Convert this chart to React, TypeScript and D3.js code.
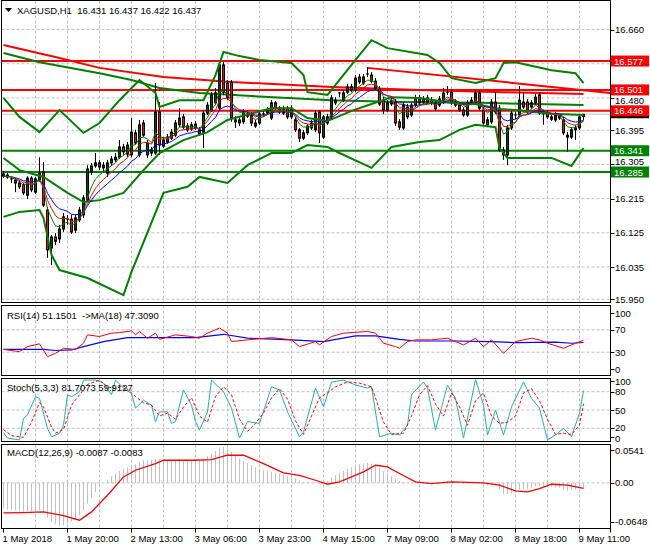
import React from 'react';
import * as d3 from 'd3';

// XAGUSD H1 candles (146 bars)
const opens = [
  16.280, 16.277, 16.267, 16.264, 16.256, 16.251, 16.224, 16.269, 16.232, 16.264,
  16.285, 16.185, 16.085, 16.114, 16.109, 16.135, 16.161, 16.161, 16.132, 16.159,
  16.172, 16.211, 16.285, 16.301, 16.309, 16.296, 16.282, 16.309, 16.317, 16.324,
  16.351, 16.332, 16.330, 16.388, 16.330, 16.414, 16.330, 16.335, 16.335, 16.443,
  16.353, 16.364, 16.374, 16.382, 16.409, 16.430, 16.396, 16.409, 16.401, 16.396,
  16.390, 16.440, 16.448, 16.467, 16.453, 16.567, 16.519, 16.522, 16.422, 16.414,
  16.417, 16.438, 16.435, 16.414, 16.414, 16.438, 16.440, 16.427, 16.467, 16.453,
  16.440, 16.453, 16.430, 16.422, 16.396, 16.374, 16.388, 16.414, 16.396, 16.443,
  16.377, 16.414, 16.430, 16.467, 16.490, 16.474, 16.495, 16.509, 16.501, 16.535,
  16.519, 16.540, 16.540, 16.524, 16.503, 16.474, 16.448, 16.464, 16.469, 16.417,
  16.401, 16.456, 16.435, 16.480, 16.467, 16.477, 16.480, 16.467, 16.467, 16.461,
  16.469, 16.493, 16.495, 16.461, 16.461, 16.448, 16.435, 16.467, 16.469, 16.493,
  16.448, 16.409, 16.417, 16.469, 16.453, 16.343, 16.330, 16.401, 16.435, 16.435,
  16.469, 16.469, 16.456, 16.467, 16.488, 16.443, 16.440, 16.430, 16.422, 16.432,
  16.422, 16.382, 16.377, 16.396, 16.401, 16.431,
];
const highs = [
  16.288, 16.282, 16.272, 16.269, 16.264, 16.256, 16.274, 16.274, 16.272, 16.324,
  16.311, 16.193, 16.119, 16.124, 16.146, 16.177, 16.172, 16.172, 16.174, 16.193,
  16.224, 16.303, 16.309, 16.335, 16.317, 16.311, 16.317, 16.327, 16.335, 16.369,
  16.359, 16.364, 16.427, 16.396, 16.422, 16.422, 16.369, 16.351, 16.519, 16.469,
  16.377, 16.385, 16.398, 16.422, 16.453, 16.438, 16.414, 16.417, 16.419, 16.403,
  16.448, 16.469, 16.495, 16.506, 16.574, 16.574, 16.527, 16.527, 16.432, 16.430,
  16.451, 16.448, 16.443, 16.422, 16.446, 16.446, 16.456, 16.474, 16.472, 16.459,
  16.459, 16.459, 16.461, 16.430, 16.401, 16.396, 16.411, 16.422, 16.448, 16.448,
  16.435, 16.438, 16.488, 16.482, 16.495, 16.501, 16.517, 16.517, 16.540, 16.543,
  16.543, 16.561, 16.548, 16.532, 16.511, 16.482, 16.474, 16.480, 16.477, 16.424,
  16.469, 16.464, 16.469, 16.488, 16.488, 16.485, 16.488, 16.482, 16.474, 16.485,
  16.506, 16.511, 16.503, 16.477, 16.469, 16.456, 16.474, 16.482, 16.501, 16.501,
  16.456, 16.430, 16.477, 16.495, 16.461, 16.351, 16.409, 16.448, 16.443, 16.511,
  16.495, 16.477, 16.474, 16.490, 16.495, 16.448, 16.448, 16.438, 16.443, 16.440,
  16.430, 16.390, 16.403, 16.409, 16.438, 16.437,
];
const lows = [
  16.269, 16.267, 16.256, 16.232, 16.240, 16.224, 16.214, 16.232, 16.227, 16.259,
  16.193, 16.059, 16.040, 16.093, 16.098, 16.127, 16.146, 16.122, 16.124, 16.153,
  16.164, 16.206, 16.277, 16.296, 16.290, 16.285, 16.272, 16.301, 16.311, 16.319,
  16.330, 16.324, 16.324, 16.356, 16.324, 16.377, 16.322, 16.327, 16.330, 16.330,
  16.348, 16.359, 16.369, 16.377, 16.403, 16.398, 16.390, 16.393, 16.396, 16.380,
  16.348, 16.435, 16.443, 16.461, 16.448, 16.488, 16.474, 16.417, 16.401, 16.406,
  16.411, 16.427, 16.406, 16.401, 16.409, 16.430, 16.435, 16.422, 16.448, 16.438,
  16.435, 16.424, 16.424, 16.390, 16.364, 16.369, 16.382, 16.396, 16.390, 16.361,
  16.372, 16.409, 16.424, 16.461, 16.482, 16.469, 16.490, 16.495, 16.495, 16.517,
  16.514, 16.535, 16.519, 16.501, 16.459, 16.438, 16.443, 16.459, 16.406, 16.396,
  16.396, 16.424, 16.430, 16.456, 16.461, 16.464, 16.464, 16.461, 16.446, 16.456,
  16.464, 16.488, 16.461, 16.456, 16.443, 16.430, 16.430, 16.461, 16.464, 16.448,
  16.409, 16.403, 16.411, 16.438, 16.338, 16.317, 16.303, 16.396, 16.424, 16.430,
  16.451, 16.438, 16.451, 16.461, 16.435, 16.409, 16.424, 16.419, 16.417, 16.422,
  16.382, 16.338, 16.372, 16.369, 16.396, 16.422,
];
const closes = [
  16.274, 16.272, 16.265, 16.256, 16.246, 16.230, 16.269, 16.238, 16.267, 16.282,
  16.198, 16.080, 16.114, 16.103, 16.135, 16.167, 16.159, 16.127, 16.164, 16.185,
  16.217, 16.293, 16.301, 16.309, 16.298, 16.303, 16.309, 16.319, 16.324, 16.351,
  16.338, 16.356, 16.390, 16.361, 16.409, 16.382, 16.361, 16.343, 16.443, 16.356,
  16.369, 16.377, 16.390, 16.414, 16.427, 16.403, 16.406, 16.398, 16.411, 16.385,
  16.440, 16.461, 16.488, 16.493, 16.567, 16.495, 16.480, 16.427, 16.417, 16.422,
  16.443, 16.432, 16.414, 16.406, 16.438, 16.435, 16.448, 16.467, 16.453, 16.443,
  16.451, 16.430, 16.453, 16.396, 16.374, 16.388, 16.406, 16.401, 16.440, 16.388,
  16.430, 16.430, 16.480, 16.474, 16.493, 16.493, 16.509, 16.501, 16.532, 16.522,
  16.535, 16.543, 16.524, 16.506, 16.464, 16.448, 16.467, 16.472, 16.414, 16.403,
  16.461, 16.430, 16.461, 16.461, 16.480, 16.469, 16.469, 16.474, 16.451, 16.477,
  16.493, 16.495, 16.467, 16.469, 16.448, 16.435, 16.467, 16.474, 16.493, 16.453,
  16.414, 16.422, 16.469, 16.443, 16.343, 16.330, 16.401, 16.440, 16.432, 16.474,
  16.456, 16.443, 16.467, 16.482, 16.440, 16.438, 16.430, 16.424, 16.435, 16.427,
  16.388, 16.377, 16.396, 16.401, 16.430, 16.437,
];

const timeLabels = [
  '1 May 2018', '1 May 20:00', '2 May 13:00', '3 May 06:00', '3 May 23:00',
  '4 May 15:00', '7 May 09:00', '8 May 02:00', '8 May 18:00', '9 May 11:00',
];
const timeLabelBars = [0, 16, 32, 48, 64, 80, 96, 112, 128, 144];

// grid prices; 16.570 sits under the 16.577 box, so it gets a grid line but no text
const priceTicks = [16.66, 16.57, 16.48, 16.395, 16.305, 16.215, 16.125, 16.035, 15.95];
const priceTickTexts = ['16.660', '', '16.480', '16.395', '16.305', '16.215', '16.125', '16.035', '15.950'];
const redLevels = [16.577, 16.501, 16.446];
const greenLevels = [16.341, 16.285];
const lastPrice = 16.437;

// Bollinger bands and long averages, sampled [bar, price]
const bbUpper: [number, number][] = [
  [0, 16.48], [4, 16.43], [9, 16.39], [14, 16.448], [20, 16.388], [24, 16.414], [29, 16.474],
  [34, 16.527], [38, 16.493], [39, 16.456], [44, 16.474], [50, 16.474], [53, 16.54], [55, 16.601],
  [59, 16.59], [64, 16.58], [72, 16.572], [75, 16.54], [76, 16.495], [81, 16.488], [87, 16.567],
  [92, 16.632], [96, 16.611], [106, 16.593], [109, 16.572], [112, 16.532], [118, 16.519],
  [123, 16.532], [125, 16.572], [128, 16.574], [137, 16.553], [143, 16.545], [145, 16.519],
];
const bbLower: [number, number][] = [
  [0, 16.167], [4, 16.18], [9, 16.185], [10, 16.164], [12, 16.067], [14, 16.027], [21, 16.006],
  [30, 15.961], [32, 16.022], [40, 16.23], [46, 16.246], [49, 16.272], [56, 16.256], [61, 16.303],
  [67, 16.335], [72, 16.335], [76, 16.356], [81, 16.351], [84, 16.335], [92, 16.296], [97, 16.351],
  [104, 16.364], [109, 16.369], [114, 16.396], [118, 16.409], [123, 16.403], [124, 16.348],
  [126, 16.322], [137, 16.322], [142, 16.301], [145, 16.348],
];
const bbMiddle: [number, number][] = [
  [0, 16.322], [4, 16.29], [10, 16.272], [16, 16.23], [20, 16.206], [24, 16.211], [30, 16.23],
  [35, 16.29], [39, 16.335], [45, 16.369], [51, 16.39], [56, 16.422], [67, 16.453], [72, 16.453],
  [76, 16.427], [81, 16.419], [87, 16.446], [92, 16.464], [97, 16.482], [104, 16.48], [109, 16.472],
  [114, 16.464], [118, 16.464], [124, 16.451], [128, 16.448], [137, 16.438], [145, 16.435],
];
const longGreen: [number, number][] = [
  [0, 16.598], [9, 16.574], [24, 16.545], [32, 16.527], [39, 16.506], [49, 16.493], [62, 16.485],
  [82, 16.474], [99, 16.469], [119, 16.467], [145, 16.461],
];
const longRed: [number, number][] = [
  [0, 16.619], [14, 16.585], [24, 16.559], [40, 16.535], [57, 16.522], [82, 16.509], [104, 16.501],
  [125, 16.495], [145, 16.49],
];
const trendLine: [number, number][] = [[91, 16.559], [151.7, 16.493]];

// RSI(14) and its MA(18)
const rsiPts: [number, number][] = [
  [0, 35], [4, 31], [6, 40], [9, 45], [11, 22], [13, 28], [15, 37], [18, 35], [20, 46], [21, 61],
  [24, 58], [27, 64], [29, 65], [32, 68], [33, 61], [34, 67], [36, 55], [38, 64], [39, 53], [43, 61],
  [47, 58], [49, 55], [51, 64], [54, 73], [56, 64], [57, 49], [61, 52], [67, 56], [72, 52], [74, 40],
  [78, 49], [79, 43], [82, 58], [85, 64], [91, 67], [93, 64], [95, 46], [98, 40], [99, 37], [101, 49],
  [103, 52], [107, 52], [111, 55], [115, 43], [118, 55], [120, 40], [122, 52], [125, 28], [128, 49],
  [132, 55], [134, 52], [136, 46], [140, 37], [143, 46], [145, 51.15],
];
const rsiMaPts: [number, number][] = [
  [0, 35], [10, 35], [13, 33], [17, 34], [20, 40], [25, 49], [31, 56], [36, 56], [48, 56], [55, 62],
  [61, 55], [72, 52], [80, 49], [88, 59], [93, 59], [99, 53], [103, 50], [113, 50], [122, 49],
  [128, 47], [138, 48], [142, 46], [145, 47.31],
];

// Stochastic(5,3,3)
const stochK: [number, number][] = [
  [0, 13], [1, 4], [4, 1], [5, 36], [6, 42], [8, 72], [9, 69], [11, 20], [12, 6], [14, 12], [15, 25],
  [16, 75], [17, 72], [19, 80], [20, 99], [23, 99], [25, 94], [27, 75], [28, 99], [30, 86], [32, 77],
  [33, 53], [35, 66], [37, 58], [38, 31], [39, 47], [41, 47], [42, 28], [43, 31], [45, 83], [47, 58],
  [48, 31], [49, 17], [51, 47], [52, 99], [55, 80], [57, 53], [59, 4], [61, 31], [64, 28], [67, 88],
  [69, 83], [71, 47], [74, 6], [75, 14], [78, 86], [80, 55], [82, 96], [85, 99], [88, 91], [91, 86],
  [92, 88], [94, 6], [97, 12], [99, 9], [101, 25], [102, 75], [105, 96], [106, 86], [108, 17],
  [111, 91], [113, 69], [115, 4], [118, 100], [120, 58], [121, 9], [123, 50], [125, 9], [127, 55],
  [130, 96], [132, 69], [134, 53], [136, 1], [138, 9], [140, 20], [142, 6], [144, 45], [145, 81.7],
];
const stochD: [number, number][] = [
  [0, 18], [2, 8], [5, 5], [7, 30], [9, 62], [10, 55], [12, 22], [13, 12], [15, 18], [17, 58],
  [19, 75], [21, 92], [24, 99], [26, 88], [28, 85], [30, 90], [33, 72], [35, 62], [37, 58], [39, 40],
  [41, 45], [43, 35], [45, 55], [47, 70], [49, 40], [51, 30], [53, 72], [55, 88], [57, 75], [59, 35],
  [61, 15], [63, 28], [65, 45], [67, 70], [69, 85], [71, 68], [73, 32], [75, 10], [77, 40], [79, 70],
  [81, 78], [83, 88], [86, 96], [89, 94], [92, 88], [93, 70], [95, 30], [97, 10], [100, 12], [102, 40],
  [104, 75], [106, 90], [108, 60], [110, 40], [112, 78], [114, 55], [116, 25], [118, 65], [120, 78],
  [122, 40], [124, 28], [126, 30], [128, 40], [130, 78], [132, 85], [134, 65], [136, 35], [138, 10],
  [140, 12], [142, 10], [144, 25], [145, 59.9],
];
const stochTicks = [100, 80, 50, 20, 0];

// MACD(12,26,9): main histogram per bar, signal sampled
const macdHist = [
  -0.0387, -0.0397, -0.0407, -0.0417, -0.0427, -0.0437, -0.0427, -0.0427, -0.0422, -0.0412,
  -0.0437, -0.0522, -0.0587, -0.0622, -0.0648, -0.0638, -0.0612, -0.0587, -0.0552, -0.0487,
  -0.0412, -0.0311, -0.0221, -0.0136, -0.0060, 0.0000, 0.0050, 0.0100, 0.0141, 0.0181,
  0.0211, 0.0231, 0.0261, 0.0281, 0.0321, 0.0341, 0.0341, 0.0351, 0.0366, 0.0361,
  0.0351, 0.0341, 0.0341, 0.0351, 0.0361, 0.0351, 0.0341, 0.0331, 0.0331, 0.0331,
  0.0366, 0.0402, 0.0442, 0.0477, 0.0532, 0.0541, 0.0522, 0.0467, 0.0417, 0.0366,
  0.0331, 0.0301, 0.0266, 0.0231, 0.0211, 0.0191, 0.0181, 0.0166, 0.0151, 0.0141,
  0.0126, 0.0100, 0.0090, 0.0065, 0.0030, 0.0015, 0.0010, 0.0000, 0.0010, -0.0010,
  0.0000, 0.0030, 0.0080, 0.0115, 0.0151, 0.0181, 0.0211, 0.0231, 0.0261, 0.0281,
  0.0291, 0.0301, 0.0291, 0.0271, 0.0231, 0.0181, 0.0141, 0.0100, 0.0065, 0.0030,
  0.0015, 0.0000, 0.0000, 0.0010, 0.0015, 0.0010, 0.0010, 0.0005, 0.0000, 0.0005,
  0.0020, 0.0025, 0.0015, 0.0010, 0.0000, -0.0010, 0.0000, 0.0010, 0.0020, 0.0010,
  -0.0020, -0.0040, -0.0030, -0.0035, -0.0100, -0.0161, -0.0171, -0.0151, -0.0131, -0.0100,
  -0.0090, -0.0085, -0.0070, -0.0050, -0.0050, -0.0045, -0.0050, -0.0060, -0.0070, -0.0070,
  -0.0100, -0.0120, -0.0110, -0.0100, -0.0085, -0.0087,
];
const macdSignal: [number, number][] = [
  [0, -0.0452], [5, -0.0447], [10, -0.0437], [15, -0.0492], [19, -0.0562], [22, -0.0437],
  [26, -0.0186], [30, 0.009], [33, 0.0191], [38, 0.0291], [40, 0.0341], [44, 0.0341], [48, 0.0341],
  [52, 0.0351], [56, 0.0417], [60, 0.0417], [65, 0.0291], [70, 0.0151], [74, 0.0115], [78, 0.004],
  [81, -0.002], [84, 0.0015], [90, 0.0166], [93, 0.0266], [96, 0.0241], [99, 0.0141], [103, 0.0015],
  [107, -0.001], [112, 0.0015], [120, 0.0], [124, -0.0035], [128, -0.012], [131, -0.0136],
  [134, -0.0085], [137, -0.002], [141, -0.0035], [145, -0.0083],
];
const macdTicks = [0.0541, 0, -0.0648];
const macdTickTexts = ['0.0541', '0.00', '-0.0648'];

const FONT = '"Liberation Sans", Arial, sans-serif';
const FS = 9.5;
const RIGHT = 610.5;
const LEFT = 1.5;
const RED = '#ff0000';
const GREEN = '#008000';
const GRID = '#c0c0c0';

const panels = {
  main: { top: 0.5, bottom: 302.5 },
  rsi: { top: 305.5, bottom: 375.5 },
  stoch: { top: 378.5, bottom: 441.5 },
  macd: { top: 444.5, bottom: 528.5 },
};

const ema = (vals: number[], n: number) => {
  const k = 2 / (n + 1);
  let prev = vals[0];
  return vals.map((v, i) => {
    if (i > 0) prev = v * k + prev * (1 - k);
    return prev;
  });
};

export default function App() {
  const x = d3.scaleLinear().domain([0, 145]).range([3.5, 583.5]);
  const yMain = d3.scaleLinear().domain([15.95, 16.66]).range([299.3, 29.5]);
  const yRsi = d3.scaleLinear().domain([0, 100]).range([369, 313]);
  const yStoch = d3.scaleLinear().domain([0, 100]).range([440.5, 379.5]);
  const yMacd = d3.scaleLinear().domain([-0.0648, 0.0541]).range([525.9, 447]);

  const path = (pts: [number, number][], ys: d3.ScaleLinear<number, number>) =>
    d3.line<[number, number]>().x((d) => x(d[0])).y((d) => ys(d[1]))(pts) || '';

  const maFast = ema(closes, 5).map((v, i) => [i, v] as [number, number]);
  const maMid = ema(closes, 8).map((v, i) => [i, v] as [number, number]);
  const maSlow = ema(closes, 13).map((v, i) => [i, v] as [number, number]);

  const gridBars = d3.range(8, 146, 8);

  const vGrid = (p: { top: number; bottom: number }) =>
    gridBars.map((b) => (
      <line key={'vg' + b} x1={x(b)} x2={x(b)} y1={p.top} y2={p.bottom}
        stroke={GRID} strokeDasharray='3,2' />
    ));

  const frame = (p: { top: number; bottom: number }, key: string) => (
    <rect key={key} x={LEFT} y={p.top} width={RIGHT - LEFT} height={p.bottom - p.top}
      fill='none' stroke='#000' />
  );

  // tick mark at the true value, text at (possibly nudged) textY
  const axisLabel = (y: number, textY: number, txt: string, key: string) => (
    <g key={key}>
      <line x1={RIGHT} x2={RIGHT + 4} y1={Math.round(y) + 0.5} y2={Math.round(y) + 0.5} stroke='#000' />
      {txt && <text x={615} y={textY + 3.5} fontSize={FS} fontFamily={FONT} fill='#000'>{txt}</text>}
    </g>
  );

  const clampY = (y: number, p: { top: number; bottom: number }, a: number, b: number) =>
    Math.max(p.top + a, Math.min(p.bottom - b, y));

  const levelBox = (price: number, color: string, key: string) => {
    const y = yMain(price);
    return (
      <g key={key}>
        <rect x={611} y={y - 5.5} width={38} height={11} fill={color} />
        <text x={614} y={y + 3.5} fontSize={FS} fontFamily={FONT} fill='#fff'>{price.toFixed(3)}</text>
      </g>
    );
  };

  // labels partly hidden behind level boxes in the original: nudge them clear
  const priceNudge: Record<string, number> = { '16.480': 3, '16.305': -2.5 };
  const stochNudge: Record<number, number> = { 20: -1, 0: 2 };

  return (
    <svg width={650} height={550} style={{ position: 'absolute', left: 0, top: 0, background: '#fff' }}>
      <defs>
        {Object.entries(panels).map(([k, p]) => (
          <clipPath id={'clip-' + k} key={k}>
            <rect x={LEFT} y={p.top} width={RIGHT - LEFT} height={p.bottom - p.top} />
          </clipPath>
        ))}
      </defs>
      <rect x={0} y={0} width={650} height={550} fill='#fff' />

      {/* main price panel */}
      <g clipPath='url(#clip-main)'>
        {vGrid(panels.main)}
        {priceTicks.map((t) => (
          <line key={'hg' + t} x1={LEFT} x2={RIGHT} y1={yMain(t)} y2={yMain(t)}
            stroke={GRID} strokeDasharray='3,2' />
        ))}
        <line x1={LEFT} x2={RIGHT} y1={yMain(lastPrice)} y2={yMain(lastPrice)} stroke={GRID} />
        {redLevels.map((l) => (
          <line key={'rl' + l} x1={LEFT} x2={RIGHT} y1={yMain(l)} y2={yMain(l)} stroke={RED} strokeWidth={2} />
        ))}
        {greenLevels.map((l) => (
          <line key={'gl' + l} x1={LEFT} x2={RIGHT} y1={yMain(l)} y2={yMain(l)} stroke={GREEN} strokeWidth={2} />
        ))}
        <path d={path(trendLine, yMain)} stroke={RED} strokeWidth={2} fill='none' />
        <path d={path(longRed, yMain)} stroke={RED} strokeWidth={2} fill='none' />
        <path d={path(longGreen, yMain)} stroke={GREEN} strokeWidth={2} fill='none' />

        {closes.map((c, i) => {
          const o = opens[i];
          const cx = x(i);
          const top = yMain(Math.max(o, c));
          const bot = yMain(Math.min(o, c));
          const up = c >= o;
          return (
            <g key={'c' + i}>
              <line x1={cx} x2={cx} y1={yMain(highs[i])} y2={yMain(lows[i])} stroke='#000' />
              {bot - top < 1.5 ? (
                <line x1={cx - 1.5} x2={cx + 1.5} y1={top} y2={top} stroke='#000' />
              ) : (
                <rect x={cx - 1} y={top} width={2} height={bot - top}
                  fill={up ? '#005000' : RED} stroke='#000' strokeWidth={1} />
              )}
            </g>
          );
        })}

        <path d={path(bbUpper, yMain)} stroke={GREEN} strokeWidth={2} fill='none' />
        <path d={path(bbMiddle, yMain)} stroke={GREEN} strokeWidth={2} fill='none' />
        <path d={path(bbLower, yMain)} stroke={GREEN} strokeWidth={2} fill='none' />
        <path d={path(maSlow, yMain)} stroke='#0000ff' fill='none' />
        <path d={path(maMid, yMain)} stroke={RED} fill='none' />
        <path d={path(maFast, yMain)} stroke={GREEN} fill='none' />
      </g>
      {frame(panels.main, 'fm')}
      <path d='M5,8 L12,8 L8.5,12 Z' fill='#000' />
      <text x={17} y={13.5} fontSize={FS} fontFamily={FONT} fill='#000' style={{ whiteSpace: 'pre' }}>
        {'XAGUSD,H1  16.431 16.437 16.422 16.437'}
      </text>
      {priceTicks.map((t, i) => {
        const y = yMain(t);
        return axisLabel(y, y + (priceNudge[priceTickTexts[i]] || 0), priceTickTexts[i], 'pt' + t);
      })}
      {/* current price marker, mostly covered by the 16.446 box */}
      <rect x={611} y={yMain(lastPrice) - 2} width={38} height={6} fill='#000' />
      {redLevels.map((l) => levelBox(l, RED, 'rb' + l))}
      {greenLevels.map((l) => levelBox(l, GREEN, 'gb' + l))}

      {/* RSI panel */}
      <g clipPath='url(#clip-rsi)'>
        {vGrid(panels.rsi)}
        {[70, 30].map((v) => (
          <line key={'rg' + v} x1={LEFT} x2={RIGHT} y1={yRsi(v)} y2={yRsi(v)} stroke={GRID} strokeDasharray='3,2' />
        ))}
        <path d={path(rsiMaPts, yRsi)} stroke='#0000ff' strokeWidth={1.2} fill='none' />
        <path d={path(rsiPts, yRsi)} stroke={RED} fill='none' />
      </g>
      {frame(panels.rsi, 'fr')}
      <text x={7} y={318.5} fontSize={FS} fontFamily={FONT} fill='#000' style={{ whiteSpace: 'pre' }}>
        {'RSI(14) 51.1501  ->MA(18) 47.3090'}
      </text>
      {[100, 70, 30, 0].map((v) => {
        const y = clampY(yRsi(v), panels.rsi, 5, 5);
        return axisLabel(y, y, String(v), 'rl' + v);
      })}

      {/* Stochastic panel */}
      <g clipPath='url(#clip-stoch)'>
        {vGrid(panels.stoch)}
        {[80, 50, 20].map((v) => (
          <line key={'sg' + v} x1={LEFT} x2={RIGHT} y1={yStoch(v)} y2={yStoch(v)} stroke={GRID} strokeDasharray='3,2' />
        ))}
        <path d={path(stochK, yStoch)} stroke='#20b2aa' fill='none' />
        <path d={path(stochD, yStoch)} stroke={RED} strokeDasharray='3,2' fill='none' />
      </g>
      {frame(panels.stoch, 'fs')}
      <text x={7} y={391} fontSize={FS} fontFamily={FONT} fill='#000'>Stoch(5,3,3) 81.7073 59.9127</text>
      {stochTicks.map((v) => {
        const y = clampY(yStoch(v), panels.stoch, 2.5, 5);
        return axisLabel(y, y + (stochNudge[v] || 0), String(v), 'sl' + v);
      })}

      {/* MACD panel */}
      <g clipPath='url(#clip-macd)'>
        {vGrid(panels.macd)}
        <line x1={LEFT} x2={RIGHT} y1={yMacd(0)} y2={yMacd(0)} stroke={GRID} strokeDasharray='3,2' />
        {macdHist.map((v, i) => (
          <line key={'h' + i} x1={x(i)} x2={x(i)} y1={yMacd(0)} y2={yMacd(v)} stroke={GRID} />
        ))}
        <path d={path(macdSignal, yMacd)} stroke={RED} strokeWidth={1.3} fill='none' />
      </g>
      {frame(panels.macd, 'fmacd')}
      <text x={7} y={456} fontSize={FS} fontFamily={FONT} fill='#000'>MACD(12,26,9) -0.0087 -0.0083</text>
      {macdTicks.map((v, i) => {
        const y = clampY(yMacd(v), panels.macd, 5.5, 6.8);
        return axisLabel(y, y, macdTickTexts[i], 'ml' + i);
      })}

      {/* time axis */}
      {timeLabelBars.map((b, i) => (
        <g key={'t' + b}>
          <line x1={x(b)} x2={x(b)} y1={panels.macd.bottom} y2={panels.macd.bottom + 4} stroke='#000' />
          <text x={x(b) - 1} y={542} fontSize={FS} fontFamily={FONT} fill='#000'>{timeLabels[i]}</text>
        </g>
      ))}
      <line x1={RIGHT} x2={RIGHT} y1={panels.macd.bottom} y2={panels.macd.bottom + 4} stroke='#000' />
    </svg>
  );
}
